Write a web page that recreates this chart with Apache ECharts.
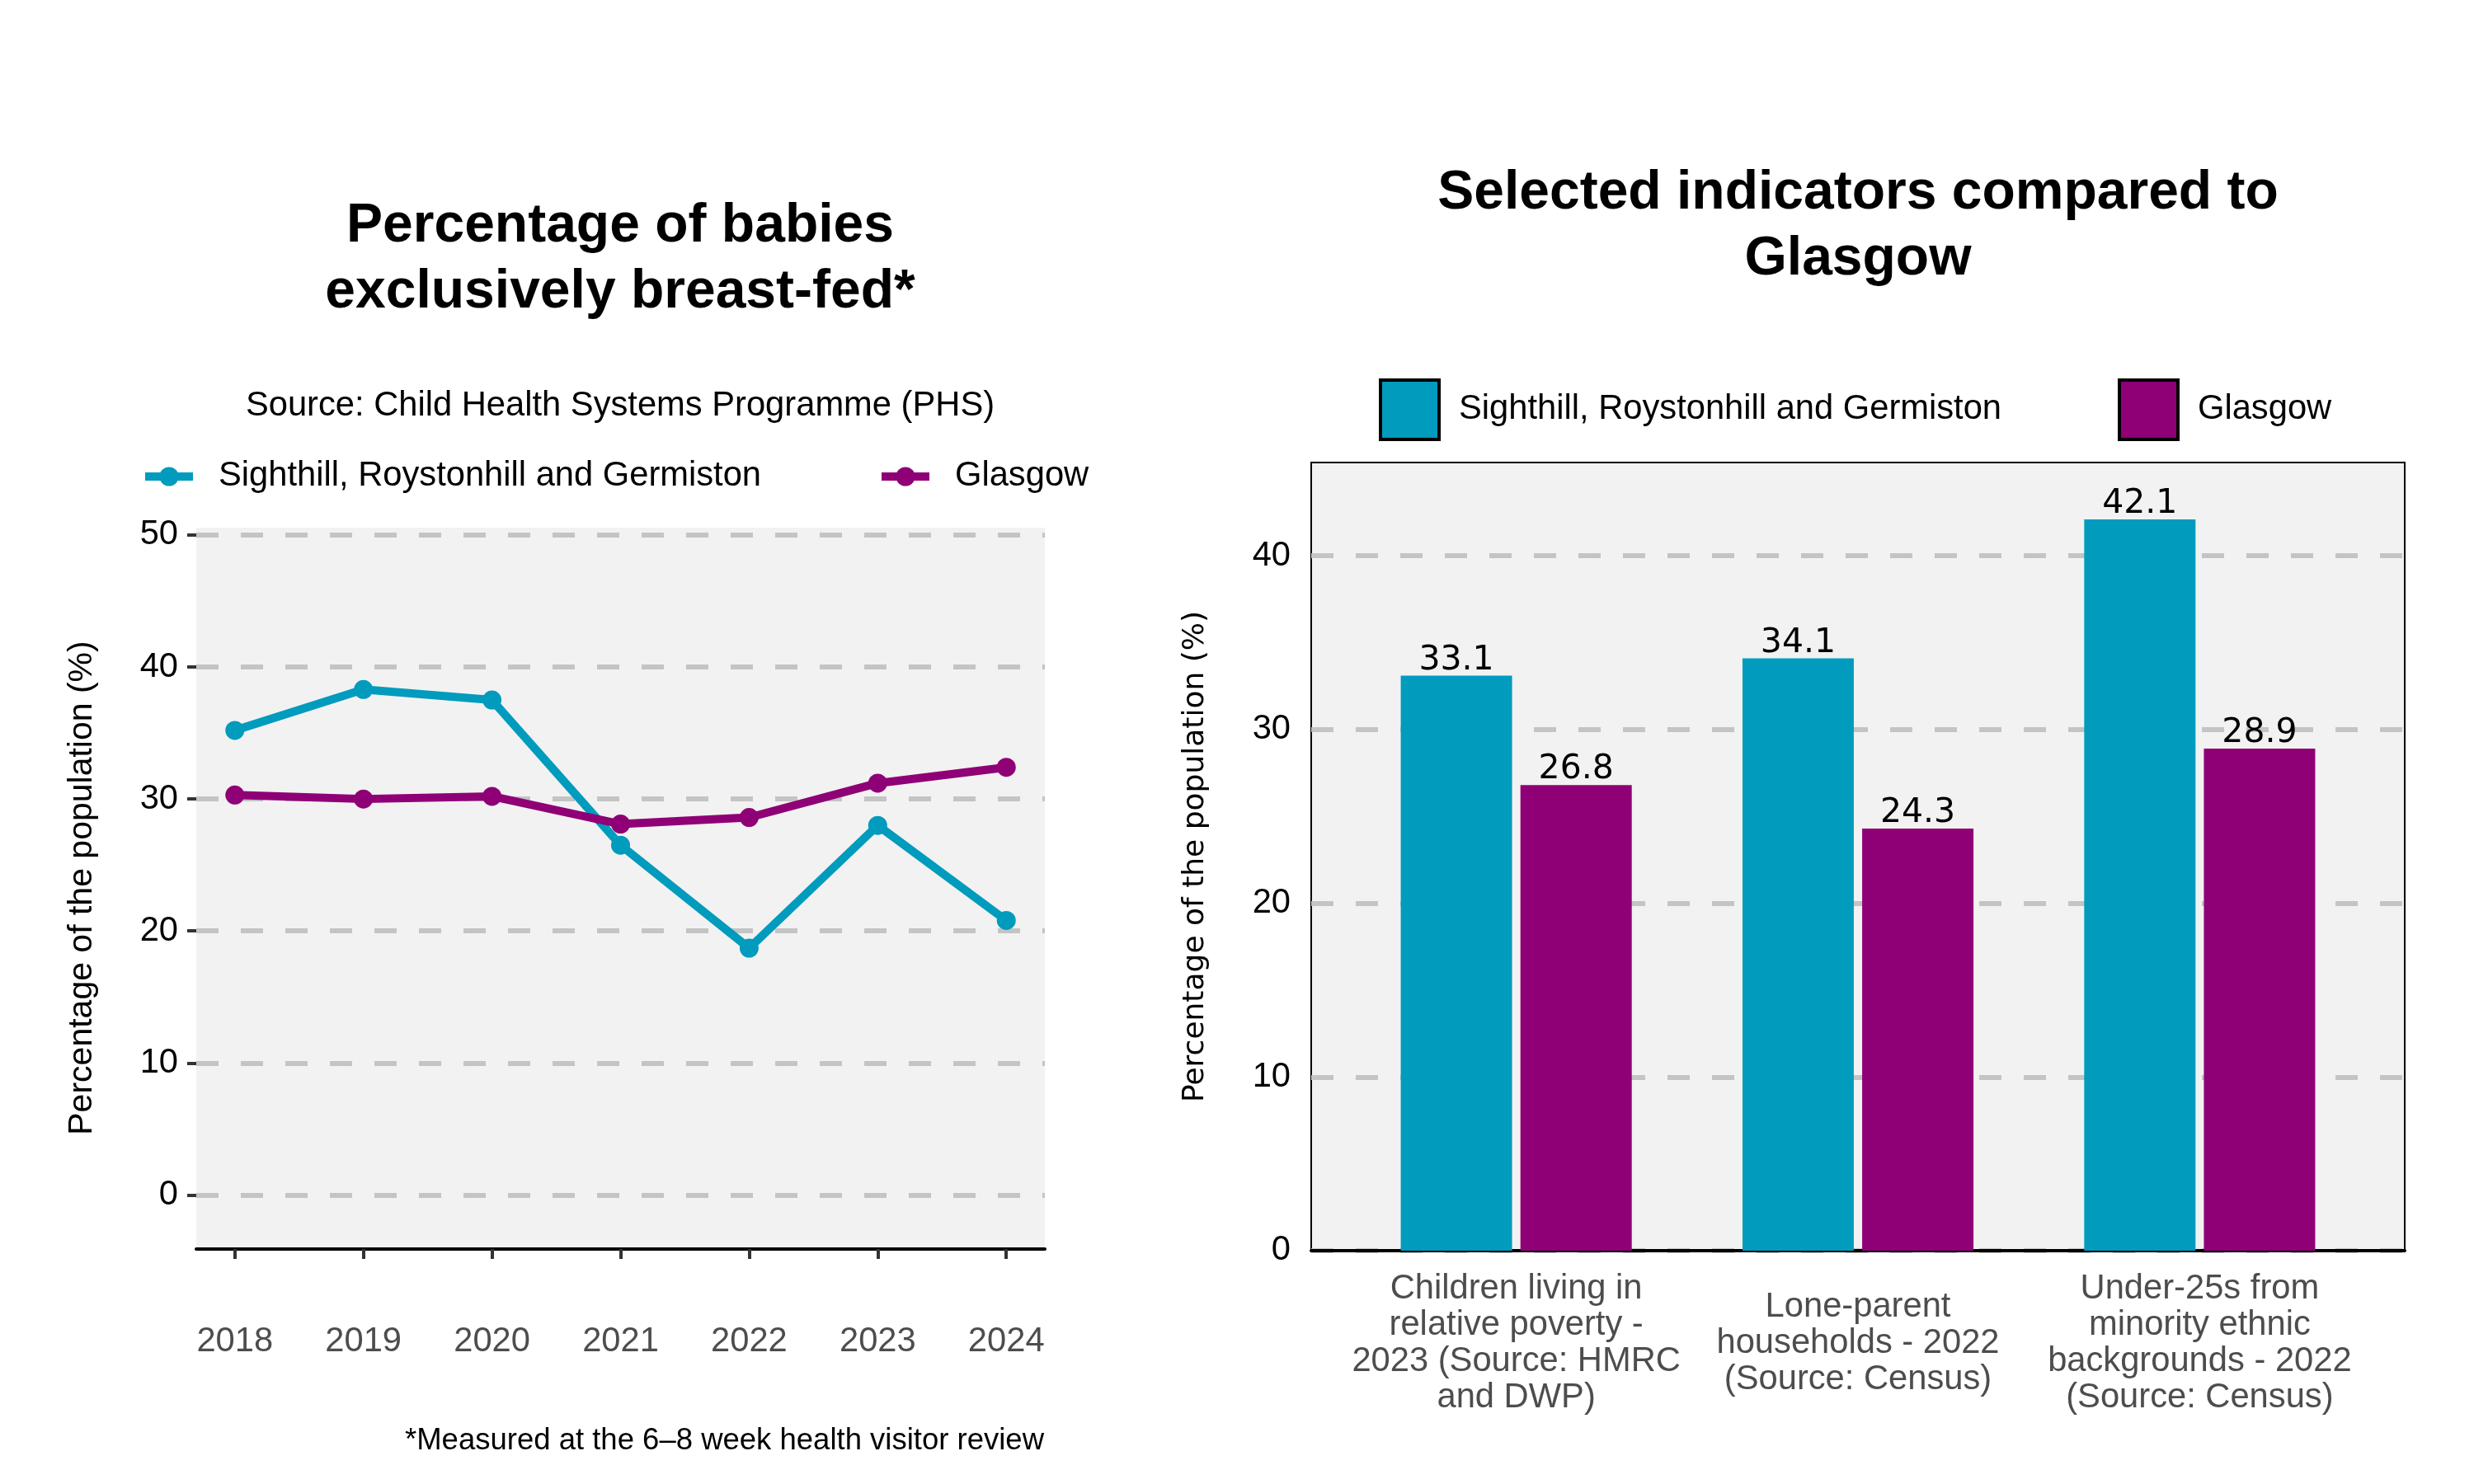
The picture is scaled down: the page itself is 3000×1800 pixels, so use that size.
<!DOCTYPE html>
<html>
<head>
<meta charset="utf-8">
<title>Breast-feeding and selected indicators</title>
<script src="https://cdn.jsdelivr.net/npm/echarts@6/dist/echarts.min.js"></script>
</head>
<body style="margin:0;background:#fff;">
<div id="main" style="width:3000px;height:1800px;"></div>
<script type="text/javascript">
// data
var areaName = 'Sighthill, Roystonhill and Germiston';
var cityName = 'Glasgow';
var years = [2018, 2019, 2020, 2021, 2022, 2023, 2024];
var areaBreastfed = [35.2, 38.3, 37.5, 26.5, 18.7, 28.0, 20.8];
var cityBreastfed = [30.3, 30.0, 30.2, 28.1, 28.6, 31.2, 32.4];
var lineTicks = [0, 10, 20, 30, 40, 50];

var indicators = [
    'Children living in\nrelative poverty -\n2023 (Source: HMRC\nand DWP)',
    'Lone-parent\nhouseholds - 2022\n(Source: Census)',
    'Under-25s from\nminority ethnic\nbackgrounds - 2022\n(Source: Census)'
];
var areaIndicators = [33.1, 34.1, 42.1];
var cityIndicators = [26.8, 24.3, 28.9];
var barTicks = [0, 10, 20, 30, 40];

var cyan = '#009bbd';
var purple = '#8f0076';
var gridGrey = '#c4c4c4';

// pairs for the value axes
var areaLine = years.map(function (y, i) { return [y, areaBreastfed[i]]; });
var cityLine = years.map(function (y, i) { return [y, cityBreastfed[i]]; });
var catPos = indicators.map(function (c, i) { return i + 1; });
var areaBars = catPos.map(function (p, i) { return [p, areaIndicators[i]]; });
var cityBars = catPos.map(function (p, i) { return [p, cityIndicators[i]]; });

var chart = echarts.init(document.getElementById('main'));

var dashed = { color: gridGrey, width: 6, type: [27, 27] };
var barLabel = {
    show: true,
    position: 'top',
    distance: -2,
    fontFamily: 'DejaVu Sans',
    fontSize: 41,
    color: '#000',
    formatter: function (p) { return p.value[1].toFixed(1); }
};

chart.setOption({
    backgroundColor: '#fff',
    animation: false,
    textStyle: { fontFamily: 'Liberation Sans' },
    title: [
        {
            text: 'Percentage of babies\nexclusively breast-fed*',
            left: 752, top: 235, padding: 0, textAlign: 'center',
            textStyle: { fontSize: 66, fontWeight: 'bold', lineHeight: 80, color: '#000' }
        },
        {
            text: 'Source: Child Health Systems Programme (PHS)',
            left: 752, top: 472, padding: 0, textAlign: 'center',
            textStyle: { fontSize: 41.7, fontWeight: 'normal', lineHeight: 42, color: '#000' }
        },
        {
            text: 'Selected indicators compared to\nGlasgow',
            left: 2253, top: 195, padding: 0, textAlign: 'center',
            textStyle: { fontSize: 66, fontWeight: 'bold', lineHeight: 80, color: '#000' }
        }
    ],
    legend: [
        {
            left: 171, top: 557, padding: 0, itemWidth: 58, itemHeight: 29,
            selectedMode: false,
            lineStyle: { width: 10 },
            textStyle: { fontSize: 41.7, color: '#000', padding: [0, 0, 0, 26] },
            data: [areaName]
        },
        {
            left: 1064, top: 557, padding: 0, itemWidth: 58, itemHeight: 29,
            selectedMode: false,
            lineStyle: { width: 10 },
            textStyle: { fontSize: 41.7, color: '#000', padding: [0, 0, 0, 26] },
            data: [cityName]
        },
        {
            left: 1672, top: 459, padding: 0, itemWidth: 71, itemHeight: 72,
            selectedMode: false,
            textStyle: { fontSize: 41.7, color: '#000', padding: [0, 0, 0, 19] },
            data: [{ name: areaName, icon: 'rect', itemStyle: { color: cyan, borderColor: '#000', borderWidth: 4 } }]
        },
        {
            left: 2568, top: 459, padding: 0, itemWidth: 71, itemHeight: 72,
            selectedMode: false,
            textStyle: { fontSize: 41.7, color: '#000', padding: [0, 0, 0, 19] },
            data: [{ name: cityName, icon: 'rect', itemStyle: { color: purple, borderColor: '#000', borderWidth: 4 } }]
        }
    ],
    grid: [
        { left: 238, top: 640, width: 1029, height: 875, show: true, backgroundColor: '#f2f2f2', borderWidth: 0 },
        { left: 1590, top: 561, width: 1326, height: 956, show: true, backgroundColor: '#f2f2f2', borderColor: '#000', borderWidth: 2 }
    ],
    xAxis: [
        {
            gridIndex: 0, type: 'value', min: 2017.7, max: 2024.3,
            axisLine: { show: true, onZero: false, lineStyle: { color: '#000', width: 4 } },
            axisTick: { show: true, length: 12, customValues: years, lineStyle: { color: '#333', width: 4 } },
            axisLabel: {
                customValues: years, margin: 113, verticalAlign: 'middle', fontSize: 41.7, color: '#4d4d4d',
                formatter: function (v) { return String(v); }
            },
            splitLine: { show: false }
        },
        {
            gridIndex: 1, type: 'value', min: 0.4, max: 3.6,
            axisLine: { show: true, onZero: false, lineStyle: { color: '#000', width: 4 } },
            axisTick: { show: false, customValues: catPos },
            axisLabel: {
                customValues: catPos, margin: 113, verticalAlign: 'middle', align: 'center',
                fontSize: 41.7, lineHeight: 44, color: '#4d4d4d',
                formatter: function (v) { return indicators[Math.round(v) - 1]; }
            },
            splitLine: { show: false }
        }
    ],
    yAxis: [
        {
            gridIndex: 0, type: 'value', min: -4.1, max: 50.56,
            axisLine: { show: false },
            axisTick: { show: true, length: 11, customValues: lineTicks, lineStyle: { color: '#333', width: 4 } },
            axisLabel: { customValues: lineTicks, margin: 22, fontSize: 41.7, color: '#000' },
            splitLine: { show: true, lineStyle: dashed }
        },
        {
            gridIndex: 1, type: 'value', min: 0, max: 45.37,
            axisLine: { show: false },
            axisTick: { show: false, customValues: barTicks },
            axisLabel: { customValues: barTicks, margin: 25, fontSize: 41.7, color: '#000' },
            splitLine: { show: true, lineStyle: dashed }
        }
    ],
    graphic: [
        {
            type: 'text', x: 100, y: 1077, rotation: Math.PI / 2,
            style: { text: 'Percentage of the population (%)', font: '41px "Liberation Sans"', fill: '#000', align: 'center', verticalAlign: 'middle' }
        },
        {
            type: 'text', x: 1450, y: 1039, rotation: Math.PI / 2,
            style: { text: 'Percentage of the population (%)', font: '36px "DejaVu Sans"', fill: '#000', align: 'center', verticalAlign: 'middle' }
        },
        {
            type: 'text', x: 1266, y: 1748,
            style: { text: '*Measured at the 6\u20138 week health visitor review', font: '36.5px "Liberation Sans"', fill: '#000', align: 'right', verticalAlign: 'middle' }
        }
    ],
    series: [
        {
            name: areaName, type: 'line', xAxisIndex: 0, yAxisIndex: 0,
            data: areaLine, symbol: 'circle', symbolSize: 23,
            itemStyle: { color: cyan }, lineStyle: { color: cyan, width: 10 }
        },
        {
            name: cityName, type: 'line', xAxisIndex: 0, yAxisIndex: 0,
            data: cityLine, symbol: 'circle', symbolSize: 23,
            itemStyle: { color: purple }, lineStyle: { color: purple, width: 10 }
        },
        {
            name: areaName, type: 'bar', xAxisIndex: 1, yAxisIndex: 1,
            data: areaBars, barWidth: 135, barGap: '7.5%',
            itemStyle: { color: cyan }, label: barLabel
        },
        {
            name: cityName, type: 'bar', xAxisIndex: 1, yAxisIndex: 1,
            data: cityBars, barWidth: 135, barGap: '7.5%',
            itemStyle: { color: purple }, label: barLabel
        }
    ]
});
</script>
</body>
</html>
